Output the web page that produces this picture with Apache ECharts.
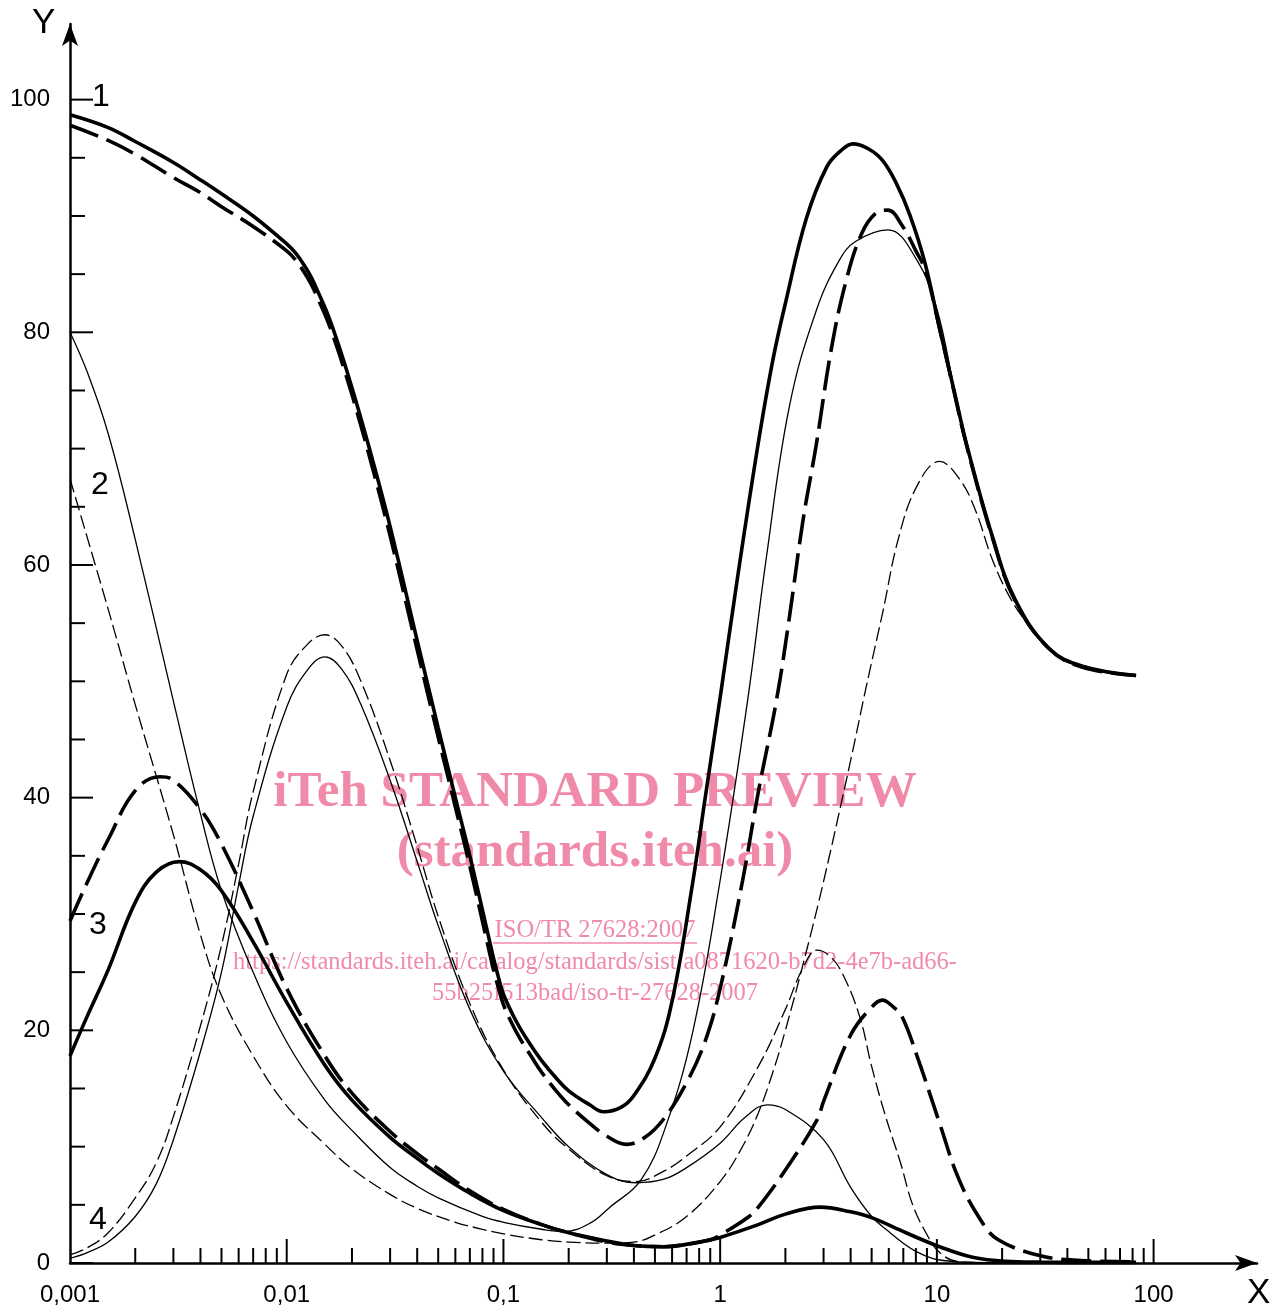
<!DOCTYPE html>
<html>
<head>
<meta charset="utf-8">
<script src="https://cdn.jsdelivr.net/npm/echarts@6/dist/echarts.min.js"></script>
<style>
  html, body { margin: 0; padding: 0; background: #fff; }
  #chart { width: 1284px; height: 1309px; }
</style>
</head>
<body>
<div id="chart"></div>
<script>
// axis ticks / labels
const xTickLabels = ['0,001', '0,01', '0,1', '1', '10', '100'];
const xDecades = [0.001, 0.01, 0.1, 1, 10];
const xMinorMantissa = [2, 3, 4, 5, 6, 7, 8, 9];
const xMajorTicks = [0.01, 0.1, 1, 10, 100];
const yMajorTicks = [0, 20, 40, 60, 80, 100];
const yMinorTicks = [5, 10, 15, 25, 30, 35, 45, 50, 55, 65, 70, 75, 85, 90, 95];

// curve 1
const c1Thick = [[0.001, 98.7], [0.0015, 97.6], [0.002, 96.4], [0.003, 94.6], [0.004, 93.1], [0.005, 91.9], [0.007, 90.0], [0.01, 87.6], [0.011, 86.8], [0.012, 85.8], [0.013, 84.7], [0.014, 83.4], [0.0155, 81.5], [0.017, 79.4], [0.0185, 77.3], [0.021, 73.9], [0.025, 68.9], [0.03, 63.3], [0.04, 53.5], [0.05, 46.0], [0.06, 40.0], [0.07, 35.0], [0.085, 28.2], [0.09, 26.2], [0.095, 24.5], [0.1, 23.1], [0.11, 21.4], [0.12, 20.1], [0.135, 18.6], [0.15, 17.4], [0.175, 15.9], [0.2, 14.8], [0.25, 13.6], [0.29, 13.0], [0.35, 13.4], [0.4, 14.4], [0.5, 17.6], [0.6, 22.5], [0.75, 32.9], [0.85, 39.8], [1.0, 48.6], [1.2, 58.8], [1.5, 70.5], [1.75, 77.6], [2.0, 82.5], [2.5, 89.8], [3.1, 94.2], [3.6, 95.6], [4.1, 96.2], [4.8, 95.8], [5.6, 94.8], [6.5, 92.8], [7.5, 90.1], [8.8, 86.0], [10.3, 80.3], [12, 75.0], [13.7, 70.4], [18, 62.5], [23, 57.0], [33, 52.8], [47, 51.3], [83, 50.5]];
const c1Dashed = [[0.001, 97.8], [0.0015, 96.5], [0.002, 95.3], [0.003, 93.3], [0.004, 92.0], [0.005, 90.8], [0.007, 89.1], [0.01, 87.0], [0.011, 86.2], [0.012, 85.2], [0.013, 84.1], [0.014, 82.8], [0.0155, 80.9], [0.017, 78.8], [0.0185, 76.7], [0.021, 73.3], [0.025, 68.2], [0.03, 62.5], [0.04, 52.7], [0.05, 45.2], [0.06, 39.2], [0.07, 34.1], [0.085, 27.2], [0.09, 25.2], [0.095, 23.6], [0.1, 22.2], [0.11, 20.5], [0.12, 19.2], [0.135, 17.7], [0.15, 16.4], [0.175, 14.8], [0.2, 13.6], [0.25, 12.0], [0.3, 10.9], [0.37, 10.2], [0.45, 10.8], [0.55, 12.4], [0.7, 15.5], [0.85, 19.0], [1.0, 23.6], [1.27, 32.9], [1.5, 40.5], [1.82, 48.4], [2.09, 55.6], [2.41, 63.8], [2.78, 70.4], [3.26, 78.6], [3.82, 84.5], [4.5, 88.5], [5.2, 90.2], [5.94, 90.5], [6.9, 89.2], [8.0, 87.0], [8.9, 85.2], [10.3, 80.3], [12, 74.9], [13.7, 70.3], [18, 62.4], [23, 56.9], [33, 52.8], [47, 51.2], [83, 50.5]];

// curve 2
const c2Thin = [[0.001, 80.0], [0.0012, 76.6], [0.0015, 71.3], [0.002, 62.2], [0.003, 48.3], [0.004, 38.6], [0.005, 32.0], [0.007, 25.0], [0.01, 19.0], [0.015, 14.0], [0.02, 11.4], [0.03, 8.2], [0.04, 6.6], [0.05, 5.6], [0.08, 4.0], [0.1, 3.5], [0.15, 2.9], [0.19, 2.7], [0.25, 3.4], [0.31, 4.8], [0.43, 7.1], [0.56, 11.7], [0.75, 20.0], [1.0, 32.9], [1.34, 48.4], [1.63, 60.5], [2.09, 73.7], [2.78, 81.9], [3.55, 86.2], [4.21, 87.8], [5.94, 88.8], [8.09, 86.2], [10, 82.0], [12, 75.2], [13.7, 70.2], [18, 62.3], [23, 56.8], [33, 52.7], [47, 51.2], [83, 50.5]];
const c2Dashed = [[0.001, 67.4], [0.0015, 56.2], [0.002, 48.0], [0.003, 36.8], [0.004, 28.2], [0.005, 23.0], [0.007, 17.8], [0.01, 13.5], [0.015, 10.2], [0.02, 8.1], [0.03, 5.9], [0.04, 4.7], [0.06, 3.5], [0.08, 2.9], [0.1, 2.5], [0.15, 2.0], [0.2, 1.8], [0.3, 1.7], [0.4, 1.8], [0.5, 2.4], [0.7, 4.0], [1.0, 7.0], [1.25, 9.8], [1.5, 12.9], [1.75, 16.4], [2.0, 20.0], [2.5, 26.8], [3.0, 32.8], [4.0, 43.2], [4.73, 49.6], [5.65, 56.1], [6.63, 62.2], [8.1, 66.8], [10.3, 68.9], [12.7, 67.4], [15, 64.8], [18, 60.5], [21.6, 57.3], [26, 55.0], [31.5, 53.1], [36.6, 52.2], [50, 51.2], [83, 50.5]];

// curve 3
const c3Thick = [[0.001, 17.8], [0.0012, 21.2], [0.0015, 25.2], [0.002, 31.0], [0.0025, 33.6], [0.0032, 34.5], [0.004, 33.8], [0.005, 32.0], [0.007, 27.6], [0.01, 22.4], [0.015, 17.0], [0.02, 14.0], [0.03, 10.8], [0.04, 9.0], [0.05, 7.7], [0.07, 6.0], [0.1, 4.5], [0.15, 3.3], [0.2, 2.6], [0.3, 1.9], [0.4, 1.5], [0.55, 1.4], [0.8, 1.8], [1.0, 2.2], [1.5, 3.3], [2.0, 4.2], [2.9, 4.8], [4.0, 4.4], [5.0, 3.9], [7.2, 2.6], [10.3, 1.4], [14.6, 0.5], [20.9, 0.15], [30, 0.08], [50, 0.05], [83, 0.05]];
const c3Dashed = [[0.001, 29.4], [0.0012, 32.7], [0.0015, 36.4], [0.002, 40.6], [0.0026, 41.8], [0.003, 41.5], [0.004, 39.0], [0.005, 36.0], [0.007, 30.2], [0.01, 23.6], [0.015, 17.8], [0.02, 14.6], [0.03, 11.3], [0.04, 9.4], [0.05, 8.1], [0.07, 6.2], [0.1, 4.6], [0.15, 3.3], [0.2, 2.6], [0.3, 1.8], [0.4, 1.5], [0.55, 1.4], [0.7, 1.6], [0.9, 2.0], [1.0, 2.4], [1.36, 4.0], [1.5, 4.8], [2.0, 8.0], [2.8, 12.3], [3.0, 13.9], [4.0, 19.6], [5.0, 22.0], [5.6, 22.6], [6.3, 22.0], [6.9, 21.2], [8.2, 17.5], [10.3, 12.0], [12.7, 7.1], [16.3, 3.4], [19.2, 2.0], [28.8, 0.7], [42.5, 0.25], [83, 0.1]];

// curve 4
const c4Thin = [[0.001, 0.4], [0.0012, 0.9], [0.0015, 1.8], [0.002, 4.0], [0.0025, 6.8], [0.003, 10.6], [0.004, 18.2], [0.005, 25.0], [0.006, 32.5], [0.007, 38.4], [0.01, 47.8], [0.0125, 51.0], [0.015, 52.1], [0.018, 51.0], [0.022, 48.0], [0.03, 41.5], [0.04, 34.5], [0.05, 29.0], [0.07, 21.8], [0.1, 16.5], [0.15, 12.5], [0.2, 10.0], [0.3, 7.6], [0.41, 6.9], [0.55, 7.2], [0.7, 8.2], [1.0, 10.3], [1.3, 12.5], [1.65, 13.6], [2.0, 13.2], [3.0, 10.6], [4.0, 6.5], [5.0, 4.0], [6.0, 2.7], [7.0, 1.7], [8.0, 1.0], [10, 0.3], [15, 0.05], [25, 0]];
const c4Dashed = [[0.001, 0.7], [0.0012, 1.3], [0.0015, 2.6], [0.002, 5.6], [0.0025, 8.6], [0.003, 12.6], [0.004, 20.4], [0.005, 27.3], [0.006, 34.3], [0.007, 40.5], [0.01, 50.6], [0.0125, 53.2], [0.015, 54.0], [0.018, 53.0], [0.022, 50.0], [0.03, 43.2], [0.04, 35.8], [0.05, 29.8], [0.07, 22.3], [0.1, 16.6], [0.15, 12.1], [0.2, 9.8], [0.3, 7.5], [0.41, 7.0], [0.55, 7.9], [0.7, 9.2], [1.0, 11.7], [1.5, 16.9], [2.0, 21.8], [2.4, 25.3], [2.8, 26.9], [3.2, 26.4], [3.66, 24.9], [4.4, 21.2], [5.0, 16.9], [5.8, 12.6], [6.8, 8.6], [7.7, 5.1], [8.9, 2.6], [10.3, 0.9], [12.7, 0.1], [20, 0]];

const X_MIN = 0.001, X_MAX = 300, Y_MAX = 106.5;
const THICK = 3.6, THIN = 1.3;

function curve(data, width, dash) {
  return {
    type: 'line',
    data: data,
    showSymbol: false,
    smooth: 0.4,
    silent: true,
    z: 4,
    lineStyle: { color: '#000', width: width, type: dash || 'solid', cap: 'butt' }
  };
}

// axis ticks drawn through the axes' own coordinate mapping
function ticks(items) {
  return {
    type: 'custom',
    silent: true,
    z: 3,
    data: items,
    renderItem: function (params, api) {
      const p = api.coord([api.value(0), api.value(1)]);
      const len = api.value(2);
      const dir = api.value(3);
      return {
        type: 'line',
        shape: dir === 0
          ? { x1: p[0], y1: p[1], x2: p[0], y2: p[1] - len }
          : { x1: p[0], y1: p[1], x2: p[0] + len, y2: p[1] },
        style: { stroke: '#000', lineWidth: 2 }
      };
    }
  };
}

const xTickItems = [];
xDecades.forEach(function (d) {
  xMinorMantissa.forEach(function (m) { xTickItems.push([m * d, 0, 15, 0]); });
});
xMajorTicks.forEach(function (v) { xTickItems.push([v, 0, 24, 0]); });
const yTickItems = yMinorTicks.map(function (v) { return [X_MIN, v, 15, 1]; })
  .concat(yMajorTicks.map(function (v) { return [X_MIN, v, 23, 1]; }));

const pink = '#f08aa9';
function wm(text, y, size, bold) {
  return {
    type: 'text', x: 595, y: y, z: 0, silent: true,
    style: {
      text: text, fill: pink, fontFamily: 'Liberation Serif',
      fontSize: size, fontWeight: bold ? 'bold' : 'normal',
      align: 'center', verticalAlign: 'middle',
      textAlign: 'center', textVerticalAlign: 'middle'
    }
  };
}
function tag(text, x, y, size) {
  return {
    type: 'text', x: x, y: y, z: 10, silent: true,
    style: {
      text: text, fill: '#000', fontFamily: 'Liberation Sans', fontSize: size,
      align: 'left', verticalAlign: 'middle',
      textAlign: 'left', textVerticalAlign: 'middle'
    }
  };
}

const chart = echarts.init(document.getElementById('chart'), null, { width: 1284, height: 1309 });

const option = {
  animation: false,
  backgroundColor: '#fff',
  grid: { left: 70, top: 24, width: 1187, height: 1239, containLabel: false },
  xAxis: {
    type: 'log',
    logBase: 10,
    min: X_MIN,
    max: X_MAX,
    axisLine: {
      onZero: false,
      symbol: ['none', 'arrow'],
      symbolSize: [12, 22],
      lineStyle: { color: '#000', width: 2.5 }
    },
    axisTick: { show: false },
    splitLine: { show: false },
    minorTick: { show: false },
    axisLabel: {
      color: '#000', fontSize: 24, fontFamily: 'Liberation Sans', margin: 20,
      showMaxLabel: false,
      formatter: function (v) {
        const e = Math.log10(v);
        const r = Math.round(e);
        if (Math.abs(e - r) > 1e-6) return '';
        return xTickLabels[r + 3] || '';
      }
    }
  },
  yAxis: {
    type: 'value',
    min: 0,
    max: Y_MAX,
    interval: 20,
    axisLine: {
      show: true,
      symbol: ['none', 'arrow'],
      symbolSize: [12, 22],
      lineStyle: { color: '#000', width: 2.5 }
    },
    axisTick: { show: false },
    splitLine: { show: false },
    axisLabel: {
      color: '#000', fontSize: 24, fontFamily: 'Liberation Sans', margin: 20,
      showMaxLabel: false,
      formatter: function (v) { return (v % 20 === 0 && v <= 100) ? String(v) : ''; }
    }
  },
  graphic: [
    wm('iTeh STANDARD PREVIEW', 793, 51, true),
    wm('(standards.iteh.ai)', 853, 51, true),
    wm('ISO/TR 27628:2007', 931, 24.5, false),
    {
      type: 'line', z: 0, silent: true,
      shape: { x1: 493, y1: 943, x2: 697, y2: 943 },
      style: { stroke: pink, lineWidth: 1.3 }
    },
    wm('https://standards.iteh.ai/catalog/standards/sist/a0871620-b7d2-4e7b-ad66-', 963, 24.5, false),
    wm('55b25f513bad/iso-tr-27628-2007', 994, 24.5, false),
    tag('Y', 32, 23, 35),
    tag('X', 1247, 1293, 35),
    tag('1', 92, 97, 32),
    tag('2', 91, 485, 32),
    tag('3', 89, 925, 32),
    tag('4', 89, 1220, 32)
  ],
  series: [
    ticks(xTickItems),
    ticks(yTickItems),
    curve(c4Thin, THIN),
    curve(c4Dashed, THIN, [14, 5]),
    curve(c2Thin, THIN),
    curve(c2Dashed, THIN, [14, 5]),
    curve(c3Thick, THICK),
    curve(c3Dashed, THICK, [30, 9]),
    curve(c1Thick, THICK),
    curve(c1Dashed, THICK, [30, 9])
  ]
};

chart.setOption(option);
window.addEventListener('resize', function () { chart.resize(); });
</script>
</body>
</html>
